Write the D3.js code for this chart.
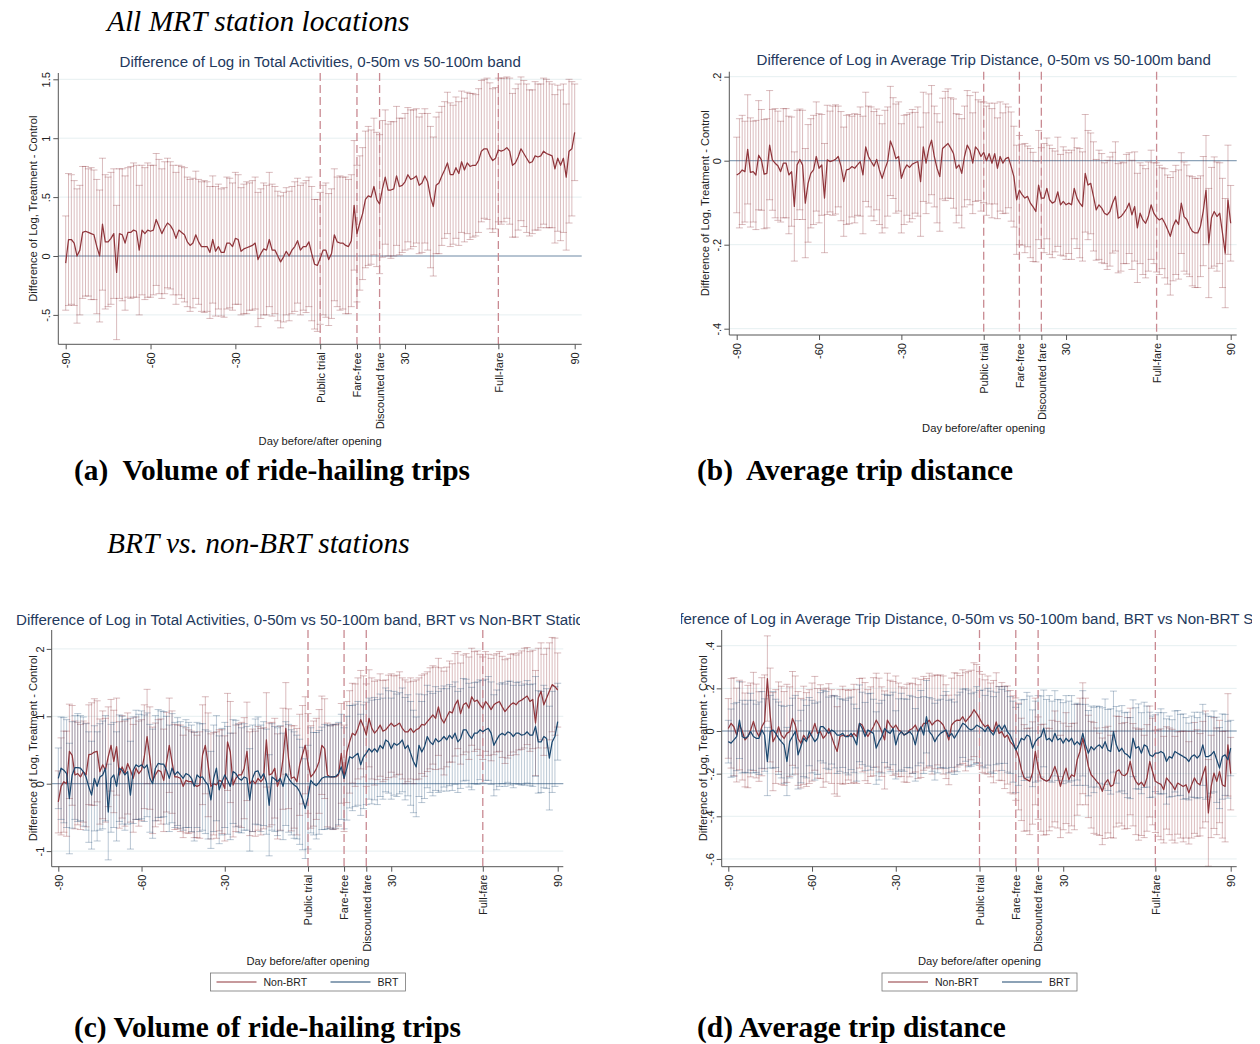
<!DOCTYPE html>
<html>
<head>
<meta charset="utf-8">
<script src="https://cdn.jsdelivr.net/npm/d3@7"></script>
<style>
  body { margin: 0; background: #fff; }
  svg { display: block; }
</style>
</head>
<body>
<svg id="fig" width="1260" height="1044"></svg>
<script>
// ── Data ────────────────────────────────────────────────────────────────────
const days = d3.range(-90, 91);
const xTickDays = [-90, -60, -30, 30, 90];
const eventDays = [0, 13, 21, 63];
const eventLabels = ["Public trial", "Fare-free", "Discounted fare", "Full-fare"];
const seriesNames = ["Non-BRT", "BRT"];

const yTicksA = [-0.5, 0, 0.5, 1, 1.5];
const yTicksB = [-0.4, -0.2, 0, 0.2];
const yTicksC = [-1, 0, 1, 2];
const yTicksD = [-0.6, -0.4, -0.2, 0, 0.2, 0.4];

// (a) volume, all stations
const volAll = [
  -0.06, 0.14, 0.14, 0.11, 0.00, 0.05, 0.20, 0.21, 0.20, 0.19,
  0.18, 0.08, 0.00, 0.27, 0.12, 0.12, 0.15, 0.19, -0.14, 0.19,
  0.18, 0.11, 0.20, 0.20, 0.22, 0.21, 0.05, 0.22, 0.19, 0.22,
  0.21, 0.22, 0.31, 0.25, 0.19, 0.24, 0.28, 0.26, 0.22, 0.15,
  0.22, 0.20, 0.18, 0.12, 0.09, 0.11, 0.18, 0.12, 0.08, 0.08,
  0.08, 0.03, 0.14, 0.04, 0.08, 0.03, 0.03, 0.11, 0.11, 0.08,
  0.15, 0.14, 0.04, 0.06, 0.07, 0.08, 0.09, 0.11, -0.03, 0.02,
  0.06, 0.05, 0.14, 0.05, 0.05, 0.00, -0.05, -0.01, 0.04, 0.00,
  0.05, 0.08, 0.13, 0.05, 0.08, 0.08, 0.12, 0.02, -0.07, -0.08,
  -0.02, 0.05, 0.05, -0.03, 0.02, 0.18, 0.12, 0.11, 0.11, 0.09,
  0.08, 0.13, 0.43, 0.19, 0.28, 0.36, 0.48, 0.51, 0.50, 0.59,
  0.48, 0.44, 0.57, 0.67, 0.56, 0.56, 0.57, 0.68, 0.59, 0.60,
  0.63, 0.69, 0.65, 0.66, 0.68, 0.60, 0.62, 0.68, 0.63, 0.50,
  0.42, 0.60, 0.62, 0.68, 0.73, 0.79, 0.69, 0.69, 0.75, 0.70,
  0.80, 0.73, 0.79, 0.76, 0.77, 0.77, 0.81, 0.89, 0.91, 0.91,
  0.85, 0.81, 0.83, 0.90, 0.89, 0.90, 0.92, 0.89, 0.77, 0.79,
  0.84, 0.91, 0.87, 0.83, 0.79, 0.80, 0.85, 0.84, 0.85, 0.89,
  0.87, 0.86, 0.85, 0.74, 0.83, 0.77, 0.83, 0.67, 0.89, 0.91, 1.05
];
const volAllCi = [
  0.40, 0.56, 0.55, 0.53, 0.57, 0.55, 0.56, 0.55, 0.54, 0.56,
  0.55, 0.57, 0.56, 0.56, 0.57, 0.55, 0.56, 0.55, 0.57, 0.55,
  0.56, 0.57, 0.55, 0.56, 0.57, 0.56, 0.55, 0.55, 0.56, 0.57,
  0.56, 0.55, 0.56, 0.57, 0.55, 0.56, 0.55, 0.54, 0.55, 0.56,
  0.55, 0.56, 0.57, 0.55, 0.56, 0.55, 0.54, 0.53, 0.55, 0.56,
  0.55, 0.56, 0.54, 0.55, 0.53, 0.54, 0.55, 0.56, 0.55, 0.54,
  0.56, 0.55, 0.54, 0.55, 0.56, 0.54, 0.55, 0.56, 0.57, 0.55,
  0.56, 0.55, 0.57, 0.56, 0.54, 0.55, 0.56, 0.55, 0.54, 0.55,
  0.54, 0.55, 0.53, 0.55, 0.54, 0.56, 0.55, 0.57, 0.55, 0.56,
  0.56, 0.55, 0.57, 0.56, 0.55, 0.56, 0.55, 0.57, 0.56, 0.58,
  0.57, 0.56, 0.55, 0.58, 0.57, 0.56, 0.58, 0.59, 0.57, 0.58,
  0.57, 0.59, 0.58, 0.57, 0.56, 0.58, 0.57, 0.59, 0.58, 0.57,
  0.58, 0.57, 0.59, 0.58, 0.57, 0.58, 0.59, 0.57, 0.58, 0.60,
  0.59, 0.58, 0.60, 0.59, 0.58, 0.60, 0.61, 0.59, 0.60, 0.61,
  0.60, 0.61, 0.60, 0.62, 0.61, 0.60, 0.61, 0.60, 0.59, 0.60,
  0.62, 0.61, 0.60, 0.61, 0.62, 0.61, 0.60, 0.62, 0.61, 0.63,
  0.62, 0.61, 0.62, 0.63, 0.62, 0.61, 0.63, 0.62, 0.61, 0.62,
  0.63, 0.62, 0.61, 0.63, 0.62, 0.64, 0.63, 0.62, 0.61, 0.57, 0.41
];

// (b) trip distance, all stations
const distAll = [
  -0.034, -0.030, -0.022, -0.026, 0.027, -0.028, -0.026, -0.034, 0.013, 0.002,
  -0.032, -0.030, 0.037, 0.002, -0.006, -0.012, -0.026, -0.006, -0.006, -0.034,
  -0.026, -0.109, -0.010, 0.003, -0.010, -0.101, -0.054, -0.030, -0.022, 0.010,
  -0.018, -0.010, -0.089, 0.002, -0.002, 0.000, 0.003, 0.010, -0.013, -0.050,
  -0.022, -0.020, -0.014, -0.018, -0.010, -0.002, -0.034, 0.033, 0.010, -0.002,
  -0.013, 0.003, -0.022, -0.042, -0.020, -0.002, 0.047, 0.030, 0.005, 0.010,
  -0.042, -0.022, -0.010, -0.016, -0.008, -0.005, -0.002, -0.050, 0.033, -0.006,
  0.029, 0.049, 0.010, -0.018, -0.038, 0.029, 0.035, 0.041, 0.030, 0.017,
  -0.018, -0.010, -0.030, 0.010, 0.037, 0.025, -0.006, 0.033, 0.025, 0.010,
  0.020, 0.000, 0.017, -0.006, 0.017, -0.018, 0.010, -0.006, 0.005, 0.008,
  -0.014, -0.038, -0.093, -0.070, -0.081, -0.089, -0.085, -0.101, -0.110, -0.121,
  -0.058, -0.089, -0.089, -0.066, -0.093, -0.101, -0.097, -0.074, -0.105, -0.097,
  -0.105, -0.101, -0.105, -0.066, -0.089, -0.101, -0.109, -0.030, -0.058, -0.054,
  -0.085, -0.117, -0.105, -0.113, -0.125, -0.129, -0.121, -0.100, -0.085, -0.137,
  -0.133, -0.125, -0.115, -0.101, -0.129, -0.109, -0.160, -0.125, -0.141, -0.149,
  -0.133, -0.105, -0.125, -0.135, -0.141, -0.137, -0.149, -0.164, -0.180, -0.156,
  -0.141, -0.152, -0.101, -0.133, -0.140, -0.156, -0.168, -0.172, -0.172, -0.156,
  -0.120, -0.070, -0.196, -0.136, -0.121, -0.133, -0.125, -0.172, -0.220, -0.093, -0.149
];
const distAllCi = [
  0.09, 0.13, 0.13, 0.12, 0.13, 0.13, 0.12, 0.13, 0.13, 0.12,
  0.13, 0.13, 0.13, 0.12, 0.13, 0.13, 0.12, 0.13, 0.13, 0.14,
  0.13, 0.13, 0.13, 0.12, 0.13, 0.13, 0.14, 0.13, 0.13, 0.13,
  0.13, 0.12, 0.13, 0.13, 0.12, 0.13, 0.13, 0.12, 0.13, 0.13,
  0.13, 0.13, 0.12, 0.13, 0.12, 0.13, 0.14, 0.13, 0.12, 0.13,
  0.13, 0.12, 0.13, 0.13, 0.14, 0.13, 0.13, 0.12, 0.13, 0.13,
  0.13, 0.13, 0.12, 0.13, 0.13, 0.12, 0.13, 0.13, 0.13, 0.12,
  0.13, 0.13, 0.12, 0.13, 0.13, 0.12, 0.13, 0.13, 0.12, 0.13,
  0.13, 0.12, 0.13, 0.12, 0.13, 0.13, 0.12, 0.13, 0.12, 0.13,
  0.12, 0.13, 0.12, 0.13, 0.12, 0.12, 0.13, 0.12, 0.13, 0.12,
  0.13, 0.12, 0.13, 0.13, 0.12, 0.13, 0.12, 0.13, 0.13, 0.12,
  0.13, 0.12, 0.13, 0.12, 0.13, 0.13, 0.12, 0.13, 0.12, 0.13,
  0.13, 0.12, 0.13, 0.12, 0.12, 0.13, 0.13, 0.14, 0.13, 0.12,
  0.13, 0.12, 0.13, 0.13, 0.12, 0.13, 0.13, 0.12, 0.13, 0.13,
  0.13, 0.12, 0.13, 0.12, 0.13, 0.13, 0.13, 0.12, 0.13, 0.13,
  0.13, 0.13, 0.12, 0.13, 0.13, 0.12, 0.13, 0.13, 0.14, 0.13,
  0.13, 0.13, 0.12, 0.13, 0.13, 0.12, 0.13, 0.13, 0.13, 0.12,
  0.13, 0.13, 0.13, 0.12, 0.13, 0.13, 0.12, 0.13, 0.13, 0.13, 0.09
];

// (c) volume, Non-BRT vs BRT
const volNonBrt = [
  -0.27, -0.04, 0.03, 0.00, 0.48, 0.42, 0.13, 0.15, 0.10, 0.18,
  0.13, 0.43, 0.44, 0.47, 0.48, 0.18, 0.28, 0.20, 0.40, 0.57,
  0.33, 0.55, 0.13, 0.25, 0.15, 0.30, 0.20, 0.08, 0.23, 0.15,
  0.20, 0.40, 0.70, 0.38, 0.05, 0.13, 0.20, 0.18, 0.05, 0.32,
  0.57, 0.32, 0.10, 0.10, 0.08, -0.04, 0.05, 0.03, 0.03, -0.02,
  -0.04, -0.02, 0.43, 0.57, 0.28, -0.04, 0.00, -0.02, 0.05, 0.03,
  -0.07, 0.62, 0.47, -0.02, 0.08, 0.13, 0.13, 0.23, 0.48, 0.00,
  0.05, 0.00, 0.08, 0.03, 0.08, 0.65, 0.13, 0.15, 0.23, -0.04,
  0.08, 0.37, 0.82, 0.37, 0.08, 0.10, 0.03, 0.28, 0.43, 0.57,
  0.30, 0.10, 0.15, 0.22, 0.33, 0.57, 0.52, 0.13, 0.10, 0.10,
  0.10, 0.13, 0.45, 0.08, 0.47, 0.62, 0.75, 0.72, 0.82, 0.95,
  0.85, 0.72, 0.97, 0.82, 0.75, 0.80, 0.87, 0.78, 0.80, 0.85,
  0.90, 0.85, 0.87, 0.90, 0.82, 0.77, 0.77, 0.82, 0.76, 0.80,
  0.82, 0.88, 0.87, 0.92, 0.97, 1.02, 0.97, 1.14, 0.97, 0.90,
  0.99, 1.07, 1.05, 1.17, 1.24, 1.04, 1.17, 1.20, 1.12, 1.29,
  1.22, 1.24, 1.17, 1.12, 1.22, 1.17, 1.10, 1.17, 1.20, 1.22,
  1.14, 1.07, 1.12, 1.17, 1.20, 1.17, 1.22, 1.24, 1.27, 1.30,
  1.22, 1.25, 0.90, 1.27, 1.37, 1.17, 1.27, 1.37, 1.47, 1.44, 1.39
];
const volNonBrtCi = [
  0.46, 0.72, 0.75, 0.78, 0.70, 0.74, 0.80, 0.76, 0.78, 0.75,
  0.77, 0.74, 0.76, 0.79, 0.75, 0.78, 0.80, 0.77, 0.74, 0.68,
  0.76, 0.72, 0.79, 0.76, 0.78, 0.75, 0.77, 0.80, 0.76, 0.78,
  0.75, 0.77, 0.70, 0.76, 0.79, 0.77, 0.75, 0.78, 0.76, 0.74,
  0.70, 0.76, 0.78, 0.77, 0.79, 0.76, 0.78, 0.77, 0.75, 0.78,
  0.76, 0.79, 0.74, 0.72, 0.77, 0.78, 0.76, 0.79, 0.75, 0.77,
  0.78, 0.72, 0.75, 0.77, 0.79, 0.76, 0.78, 0.75, 0.73, 0.77,
  0.76, 0.78, 0.77, 0.79, 0.75, 0.70, 0.77, 0.76, 0.74, 0.78,
  0.77, 0.75, 0.68, 0.74, 0.78, 0.76, 0.79, 0.75, 0.73, 0.72,
  0.74, 0.76, 0.78, 0.75, 0.77, 0.73, 0.74, 0.77, 0.76, 0.78,
  0.77, 0.76, 0.74, 0.79, 0.75, 0.76, 0.74, 0.76, 0.75, 0.73,
  0.75, 0.76, 0.72, 0.75, 0.77, 0.74, 0.76, 0.75, 0.74, 0.76,
  0.73, 0.75, 0.74, 0.76, 0.75, 0.77, 0.74, 0.75, 0.76, 0.74,
  0.75, 0.73, 0.76, 0.74, 0.75, 0.73, 0.76, 0.72, 0.75, 0.77,
  0.74, 0.75, 0.73, 0.76, 0.72, 0.75, 0.74, 0.73, 0.76, 0.72,
  0.74, 0.73, 0.75, 0.76, 0.74, 0.75, 0.76, 0.74, 0.73, 0.74,
  0.75, 0.77, 0.74, 0.75, 0.73, 0.74, 0.72, 0.73, 0.74, 0.72,
  0.74, 0.73, 0.78, 0.74, 0.72, 0.75, 0.74, 0.72, 0.70, 0.72, 0.55
];
const volBrt = [
  0.08, 0.23, 0.20, 0.15, -0.22, 0.13, 0.24, 0.24, 0.23, 0.18,
  0.10, -0.05, -0.17, 0.08, -0.04, 0.10, 0.13, 0.23, -0.42, 0.08,
  0.13, -0.04, 0.23, 0.20, 0.13, 0.18, -0.17, 0.20, 0.28, 0.25,
  0.28, 0.23, 0.28, 0.08, 0.00, 0.23, 0.30, 0.29, 0.29, 0.20,
  0.08, 0.23, 0.13, 0.18, 0.13, 0.08, 0.15, 0.13, 0.08, -0.04,
  0.13, 0.09, 0.10, 0.03, -0.02, -0.24, 0.08, 0.23, -0.09, 0.03,
  0.13, 0.05, -0.04, 0.18, 0.15, 0.08, 0.05, 0.10, 0.08, -0.24,
  0.08, 0.18, 0.19, 0.08, 0.15, 0.03, -0.32, 0.10, 0.07, 0.03,
  0.08, -0.04, 0.15, 0.08, 0.02, -0.02, -0.05, -0.12, -0.22, -0.37,
  -0.20, 0.05, 0.00, -0.03, 0.02, 0.08, 0.10, 0.10, 0.10, 0.10,
  0.11, 0.15, 0.25, 0.08, 0.23, 0.40, 0.38, 0.42, 0.45, 0.28,
  0.40, 0.45, 0.52, 0.47, 0.52, 0.47, 0.57, 0.52, 0.65, 0.62,
  0.52, 0.60, 0.57, 0.60, 0.65, 0.52, 0.57, 0.45, 0.33, 0.25,
  0.57, 0.47, 0.55, 0.70, 0.62, 0.58, 0.67, 0.62, 0.65, 0.70,
  0.65, 0.72, 0.67, 0.75, 0.62, 0.67, 0.80, 0.80, 0.72, 0.67,
  0.75, 0.75, 0.80, 0.77, 0.80, 0.82, 0.75, 0.57, 0.65, 0.72,
  0.75, 0.72, 0.77, 0.75, 0.70, 0.75, 0.75, 0.72, 0.73, 0.77,
  0.72, 0.72, 0.85, 0.62, 0.62, 0.70, 0.67, 0.38, 0.62, 0.70, 0.92
];
const volBrtCi = [
  0.45, 0.76, 0.78, 0.80, 0.82, 0.79, 0.77, 0.80, 0.78, 0.81,
  0.79, 0.82, 0.80, 0.78, 0.81, 0.79, 0.80, 0.78, 0.71, 0.80,
  0.78, 0.81, 0.79, 0.80, 0.82, 0.78, 0.80, 0.79, 0.81, 0.78,
  0.80, 0.79, 0.77, 0.80, 0.81, 0.78, 0.80, 0.79, 0.78, 0.80,
  0.79, 0.81, 0.78, 0.80, 0.79, 0.77, 0.80, 0.78, 0.79, 0.81,
  0.78, 0.80, 0.79, 0.77, 0.80, 0.72, 0.79, 0.78, 0.80, 0.79,
  0.78, 0.80, 0.79, 0.77, 0.79, 0.80, 0.78, 0.79, 0.77, 0.76,
  0.79, 0.78, 0.80, 0.79, 0.77, 0.78, 0.75, 0.79, 0.78, 0.80,
  0.78, 0.79, 0.77, 0.80, 0.78, 0.79, 0.77, 0.78, 0.76, 0.74,
  0.77, 0.78, 0.76, 0.79, 0.77, 0.76, 0.78, 0.77, 0.76, 0.78,
  0.77, 0.76, 0.78, 0.75, 0.77, 0.76, 0.78, 0.76, 0.77, 0.75,
  0.77, 0.76, 0.75, 0.77, 0.76, 0.78, 0.76, 0.75, 0.77, 0.76,
  0.75, 0.77, 0.76, 0.75, 0.77, 0.76, 0.75, 0.77, 0.76, 0.74,
  0.76, 0.75, 0.77, 0.76, 0.75, 0.76, 0.77, 0.75, 0.76, 0.75,
  0.76, 0.75, 0.77, 0.76, 0.75, 0.74, 0.76, 0.75, 0.77, 0.76,
  0.75, 0.76, 0.74, 0.76, 0.75, 0.77, 0.76, 0.75, 0.74, 0.76,
  0.75, 0.76, 0.75, 0.77, 0.76, 0.75, 0.76, 0.74, 0.75, 0.76,
  0.75, 0.76, 0.74, 0.76, 0.75, 0.76, 0.74, 0.77, 0.75, 0.74, 0.57
];

// (d) trip distance, Non-BRT vs BRT
const distNonBrt = [
  0.012, 0.036, 0.020, -0.019, 0.028, 0.000, -0.042, -0.026, 0.005, 0.045,
  0.000, -0.026, 0.020, 0.043, 0.246, 0.075, -0.050, -0.026, 0.020, -0.020,
  -0.035, -0.011, -0.003, 0.059, 0.028, -0.035, -0.057, -0.020, -0.040, -0.026,
  -0.005, 0.036, -0.011, -0.003, -0.034, -0.019, 0.012, -0.026, -0.065, -0.096,
  -0.026, -0.020, -0.026, -0.020, -0.026, -0.011, -0.026, 0.036, 0.028, -0.003,
  -0.026, -0.003, 0.020, 0.051, 0.028, -0.003, -0.042, 0.051, 0.028, 0.012,
  0.028, 0.005, -0.003, -0.019, -0.011, 0.005, 0.012, 0.028, -0.003, 0.012,
  0.036, 0.036, 0.051, 0.028, 0.043, 0.051, 0.043, 0.028, -0.003, -0.042,
  0.028, 0.043, 0.051, 0.050, 0.067, 0.043, 0.059, 0.075, 0.100, 0.082,
  0.059, 0.036, 0.020, 0.028, 0.005, -0.003, 0.043, -0.011, -0.003, -0.030,
  -0.019, -0.050, -0.065, -0.085, -0.120, -0.180, -0.220, -0.228, -0.236, -0.197,
  -0.096, -0.174, -0.220, -0.228, -0.236, -0.228, -0.200, -0.166, -0.205, -0.260,
  -0.213, -0.174, -0.228, -0.205, -0.213, -0.135, -0.096, -0.034, -0.096, -0.166,
  -0.205, -0.220, -0.236, -0.250, -0.283, -0.244, -0.228, -0.260, -0.252, -0.190,
  -0.182, -0.205, -0.210, -0.197, -0.143, -0.205, -0.236, -0.252, -0.240, -0.260,
  -0.220, -0.143, -0.190, -0.236, -0.244, -0.250, -0.275, -0.220, -0.236, -0.252,
  -0.275, -0.244, -0.252, -0.260, -0.252, -0.290, -0.252, -0.220, -0.244, -0.252,
  -0.205, -0.166, -0.384, -0.260, -0.197, -0.236, -0.190, -0.252, -0.260, -0.065, -0.200
];
const distNonBrtCi = [
  0.14, 0.21, 0.23, 0.22, 0.21, 0.23, 0.22, 0.24, 0.22, 0.23,
  0.22, 0.21, 0.23, 0.22, 0.20, 0.22, 0.23, 0.22, 0.21, 0.23,
  0.22, 0.23, 0.21, 0.22, 0.23, 0.22, 0.21, 0.23, 0.22, 0.22,
  0.23, 0.22, 0.21, 0.22, 0.23, 0.22, 0.21, 0.22, 0.23, 0.21,
  0.22, 0.23, 0.22, 0.21, 0.22, 0.23, 0.22, 0.21, 0.22, 0.23,
  0.22, 0.21, 0.23, 0.22, 0.22, 0.21, 0.23, 0.22, 0.21, 0.22,
  0.23, 0.22, 0.21, 0.22, 0.23, 0.22, 0.21, 0.22, 0.22, 0.23,
  0.22, 0.21, 0.22, 0.23, 0.22, 0.21, 0.22, 0.23, 0.22, 0.21,
  0.22, 0.23, 0.22, 0.21, 0.22, 0.23, 0.22, 0.21, 0.22, 0.23,
  0.22, 0.23, 0.22, 0.23, 0.22, 0.24, 0.23, 0.22, 0.23, 0.24,
  0.23, 0.24, 0.23, 0.24, 0.25, 0.24, 0.25, 0.24, 0.25, 0.24,
  0.25, 0.24, 0.25, 0.26, 0.25, 0.24, 0.25, 0.26, 0.25, 0.24,
  0.25, 0.26, 0.25, 0.24, 0.25, 0.26, 0.25, 0.26, 0.25, 0.24,
  0.25, 0.26, 0.25, 0.24, 0.25, 0.26, 0.25, 0.24, 0.25, 0.26,
  0.25, 0.24, 0.25, 0.26, 0.25, 0.24, 0.25, 0.26, 0.25, 0.24,
  0.25, 0.26, 0.25, 0.24, 0.25, 0.26, 0.25, 0.24, 0.25, 0.26,
  0.25, 0.24, 0.25, 0.26, 0.25, 0.24, 0.25, 0.26, 0.25, 0.24,
  0.25, 0.26, 0.25, 0.24, 0.26, 0.25, 0.24, 0.25, 0.26, 0.24, 0.17
];
const distBrt = [
  -0.050, -0.057, -0.042, -0.026, 0.051, -0.026, -0.034, -0.026, -0.003, -0.026,
  -0.034, -0.034, 0.005, -0.019, -0.143, -0.003, 0.005, -0.011, -0.034, -0.050,
  -0.065, -0.143, -0.050, -0.026, -0.003, -0.112, -0.073, -0.034, -0.050, -0.003,
  -0.026, -0.050, -0.034, 0.020, 0.020, 0.005, -0.011, 0.005, -0.003, -0.019,
  -0.019, -0.011, -0.026, -0.026, -0.011, -0.034, -0.065, 0.036, 0.012, -0.026,
  0.005, -0.003, -0.011, -0.080, -0.050, -0.026, 0.012, -0.003, -0.011, 0.012,
  -0.065, -0.019, -0.003, -0.019, -0.011, -0.003, -0.019, -0.065, -0.003, 0.020,
  -0.019, 0.067, -0.003, -0.019, -0.050, -0.026, -0.011, -0.003, 0.005, -0.026,
  -0.011, -0.034, -0.011, 0.012, 0.036, 0.028, 0.012, 0.005, 0.012, 0.028,
  0.020, 0.012, -0.003, 0.020, -0.003, -0.019, 0.012, 0.028, 0.005, 0.028,
  -0.003, -0.019, -0.050, -0.089, -0.065, -0.034, -0.042, -0.019, -0.026, -0.081,
  -0.050, -0.034, -0.026, 0.012, -0.042, -0.034, -0.050, -0.011, -0.042, -0.034,
  -0.057, -0.034, -0.050, -0.034, -0.065, -0.050, -0.065, -0.011, -0.065, -0.104,
  -0.073, -0.089, -0.073, -0.065, -0.081, -0.050, -0.089, -0.096, -0.003, -0.065,
  -0.096, -0.081, -0.104, -0.112, -0.127, -0.034, -0.081, -0.073, -0.104, -0.065,
  -0.073, -0.112, -0.120, -0.104, -0.104, -0.096, -0.104, -0.143, -0.120, -0.127,
  -0.096, -0.104, -0.112, -0.120, -0.127, -0.143, -0.120, -0.112, -0.127, -0.112,
  -0.065, -0.120, -0.120, -0.112, -0.096, -0.135, -0.174, -0.120, -0.112, -0.135, -0.080
];
const distBrtCi = [
  0.10, 0.16, 0.17, 0.16, 0.18, 0.17, 0.16, 0.17, 0.18, 0.17,
  0.16, 0.17, 0.18, 0.17, 0.16, 0.17, 0.18, 0.16, 0.17, 0.17,
  0.18, 0.16, 0.17, 0.18, 0.17, 0.16, 0.17, 0.18, 0.17, 0.16,
  0.17, 0.18, 0.17, 0.16, 0.17, 0.18, 0.17, 0.16, 0.17, 0.18,
  0.17, 0.16, 0.17, 0.18, 0.17, 0.16, 0.17, 0.18, 0.17, 0.16,
  0.17, 0.18, 0.16, 0.17, 0.18, 0.17, 0.16, 0.17, 0.18, 0.17,
  0.16, 0.17, 0.18, 0.17, 0.16, 0.17, 0.18, 0.17, 0.16, 0.17,
  0.18, 0.17, 0.16, 0.17, 0.18, 0.17, 0.16, 0.17, 0.18, 0.17,
  0.16, 0.17, 0.18, 0.17, 0.16, 0.17, 0.18, 0.17, 0.17, 0.18,
  0.17, 0.18, 0.17, 0.18, 0.19, 0.18, 0.17, 0.18, 0.19, 0.18,
  0.19, 0.18, 0.19, 0.20, 0.19, 0.18, 0.19, 0.20, 0.19, 0.18,
  0.19, 0.20, 0.19, 0.18, 0.19, 0.20, 0.19, 0.20, 0.19, 0.18,
  0.19, 0.20, 0.19, 0.20, 0.19, 0.18, 0.19, 0.20, 0.19, 0.20,
  0.19, 0.20, 0.19, 0.18, 0.19, 0.20, 0.19, 0.20, 0.19, 0.18,
  0.19, 0.20, 0.19, 0.20, 0.19, 0.18, 0.19, 0.20, 0.19, 0.20,
  0.19, 0.20, 0.19, 0.18, 0.19, 0.20, 0.19, 0.20, 0.19, 0.18,
  0.19, 0.20, 0.19, 0.20, 0.19, 0.18, 0.19, 0.20, 0.19, 0.20,
  0.19, 0.20, 0.19, 0.18, 0.19, 0.20, 0.19, 0.20, 0.19, 0.18, 0.13
];

// ── Style ───────────────────────────────────────────────────────────────────
const RED = "#90353b", BLUE = "#1a476f";
const SANS = "'Liberation Sans', Arial, sans-serif";
const SERIF = "'Liberation Serif', 'Times New Roman', serif";
const TITLE_COL = "#23395d";
const AXIS_COL = "#555";

const fmt = d => d === 0 ? "0" : String(d).replace("0.", ".");

const panels = [
  {
    title: "Difference of Log in Total Activities, 0-50m vs 50-100m band",
    xRange: [65.7, 574.7], left: 58.3, right: 581.7,
    yRef: [0, 1], yPix: [256, 138.2], top: 73, bottom: 344.3,
    yTicks: yTicksA, titleY: 62, yTitleX: 33.5, xTitleY: 441,
    series: [{ v: volAll, ci: volAllCi, color: RED }]
  },
  {
    title: "Difference of Log in Average Trip Distance, 0-50m vs 50-100m band",
    xRange: [736.7, 1230.7], left: 729.3, right: 1236.7,
    yRef: [0, 0.2], yPix: [160.7, 76.7], top: 71.7, bottom: 335,
    yTicks: yTicksB, titleY: 60, yTitleX: 705, xTitleY: 428,
    series: [{ v: distAll, ci: distAllCi, color: RED }]
  },
  {
    title: "Difference of Log in Total Activities, 0-50m vs 50-100m band, BRT vs Non-BRT Stations",
    xRange: [58.3, 557.7], left: 51.7, right: 563.3,
    yRef: [0, 1], yPix: [783.7, 716.3], top: 630, bottom: 866.7,
    yTicks: yTicksC, titleY: 620, yTitleX: 33.5, xTitleY: 961,
    clip: [0, 580], legendY: 982,
    series: [{ v: volNonBrt, ci: volNonBrtCi, color: RED }, { v: volBrt, ci: volBrtCi, color: BLUE }]
  },
  {
    title: "Difference of Log in Average Trip Distance, 0-50m vs 50-100m band, BRT vs Non-BRT Stations",
    xRange: [728.3, 1230.7], left: 721.7, right: 1236.7,
    yRef: [0, 0.4], yPix: [731, 645.7], top: 630, bottom: 866.7,
    yTicks: yTicksD, titleY: 619, yTitleX: 703, xTitleY: 961,
    clip: [681, 1252], legendY: 982,
    series: [{ v: distNonBrt, ci: distNonBrtCi, color: RED }, { v: distBrt, ci: distBrtCi, color: BLUE }]
  }
];

const svg = d3.select("#fig");
const defs = svg.append("defs");

// ── Panels ──────────────────────────────────────────────────────────────────
panels.forEach((p, pi) => {
  const xs = d3.scaleLinear().domain([-90, 90]).range(p.xRange);
  const ys = d3.scaleLinear().domain(p.yRef).range(p.yPix);
  const g = svg.append("g");

  // the two lower panels are cropped like the source figure
  if (p.clip) {
    defs.append("clipPath").attr("id", "clip" + pi)
      .append("rect").attr("x", p.clip[0]).attr("y", 0)
      .attr("width", p.clip[1] - p.clip[0]).attr("height", 1044);
    g.attr("clip-path", `url(#clip${pi})`);
  }

  // gridlines
  g.selectAll(".grid").data(p.yTicks).join("line")
    .attr("x1", p.left).attr("x2", p.right)
    .attr("y1", d => ys(d)).attr("y2", d => ys(d))
    .attr("stroke", "#e6eff1").attr("stroke-width", 1);

  // zero line
  g.append("line")
    .attr("x1", p.left).attr("x2", p.right)
    .attr("y1", ys(0)).attr("y2", ys(0))
    .attr("stroke", "#7890ab").attr("stroke-width", 1);

  // error bars
  p.series.forEach(s => {
    const eb = g.append("g").attr("stroke", s.color)
      .attr("stroke-opacity", s.color === RED ? 0.33 : 0.3).attr("stroke-width", 1);
    days.forEach((d, i) => {
      const x = xs(d), lo = ys(s.v[i] - s.ci[i]), hi = ys(s.v[i] + s.ci[i]);
      eb.append("line").attr("x1", x).attr("x2", x).attr("y1", lo).attr("y2", hi);
      eb.append("line").attr("x1", x - 3.5).attr("x2", x + 3.5).attr("y1", lo).attr("y2", lo);
      eb.append("line").attr("x1", x - 3.5).attr("x2", x + 3.5).attr("y1", hi).attr("y2", hi);
    });
  });

  // event lines
  g.selectAll(".ev").data(eventDays).join("line")
    .attr("x1", d => xs(d)).attr("x2", d => xs(d))
    .attr("y1", p.top).attr("y2", p.bottom)
    .attr("stroke", "#c98a92").attr("stroke-width", 1.3)
    .attr("stroke-dasharray", "8,4");

  // series lines
  const line = d3.line().x((d, i) => xs(days[i])).y(d => ys(d));
  p.series.forEach(s => {
    g.append("path").datum(s.v)
      .attr("d", line).attr("fill", "none")
      .attr("stroke", s.color).attr("stroke-width", 1.25)
      .attr("stroke-linejoin", "round");
  });

  // axis lines
  g.append("line").attr("x1", p.left).attr("x2", p.left)
    .attr("y1", p.top).attr("y2", p.bottom).attr("stroke", AXIS_COL);
  g.append("line").attr("x1", p.left).attr("x2", p.right)
    .attr("y1", p.bottom).attr("y2", p.bottom).attr("stroke", AXIS_COL);

  // y axis
  const ya = g.append("g").attr("transform", `translate(${p.left},0)`)
    .call(d3.axisLeft(ys).tickValues(p.yTicks).tickFormat(fmt).tickSize(5).tickSizeOuter(0));
  ya.select(".domain").remove();
  ya.attr("font-family", SANS).attr("font-size", 11);
  ya.selectAll("line").attr("stroke", AXIS_COL);
  ya.selectAll("text").attr("fill", "#222")
    .attr("transform", "rotate(-90)").attr("x", 0).attr("y", -8).attr("dy", 0)
    .attr("text-anchor", "middle");

  // x axis
  const xa = g.append("g").attr("transform", `translate(0,${p.bottom})`)
    .call(d3.axisBottom(xs).tickValues(xTickDays.concat(eventDays))
      .tickFormat(d => { const k = eventDays.indexOf(d); return k >= 0 ? eventLabels[k] : d; })
      .tickSize(5).tickSizeOuter(0));
  xa.select(".domain").remove();
  xa.attr("font-family", SANS).attr("font-size", 11);
  xa.selectAll("line").attr("stroke", AXIS_COL);
  xa.selectAll("text").attr("fill", "#222")
    .attr("transform", "rotate(-90)").attr("x", -8).attr("y", 0).attr("dy", "0.35em")
    .attr("text-anchor", "end");

  // titles
  g.append("text").attr("x", xs(0)).attr("y", p.titleY).attr("dy", "0.35em")
    .attr("text-anchor", "middle").attr("font-family", SANS).attr("font-size", 15.1)
    .attr("fill", TITLE_COL).text(p.title);
  g.append("text")
    .attr("transform", `translate(${p.yTitleX},${(p.top + p.bottom) / 2}) rotate(-90)`)
    .attr("dy", "0.35em").attr("text-anchor", "middle")
    .attr("font-family", SANS).attr("font-size", 11.1).attr("fill", "#222")
    .text("Difference of Log, Treatment - Control");
  g.append("text").attr("x", xs(0)).attr("y", p.xTitleY).attr("dy", "0.35em")
    .attr("text-anchor", "middle").attr("font-family", SANS).attr("font-size", 11.2)
    .attr("fill", "#222").text("Day before/after opening");

  // legend
  if (p.legendY) {
    const lx = xs(0) - 97.5;
    const lg = g.append("g").attr("transform", `translate(${lx},${p.legendY})`);
    lg.append("rect").attr("x", 0).attr("y", -9).attr("width", 195).attr("height", 18)
      .attr("fill", "#fff").attr("stroke", "#777").attr("stroke-width", 0.8);
    [RED, BLUE].forEach((c, k) => {
      const ox = k === 0 ? 6 : 120;
      lg.append("line").attr("x1", ox).attr("x2", ox + 40).attr("y1", 0).attr("y2", 0)
        .attr("stroke", c).attr("stroke-width", 1.2);
      lg.append("text").attr("x", ox + 47).attr("y", 0).attr("dy", "0.35em")
        .attr("font-family", SANS).attr("font-size", 10.5).attr("fill", "#222")
        .text(seriesNames[k]);
    });
  }
});

// ── Headings and captions ───────────────────────────────────────────────────
const headings = [
  { x: 107, y: 31, text: "All MRT station locations", style: "italic", weight: "normal" },
  { x: 74, y: 480, text: "(a)  Volume of ride-hailing trips", style: "normal", weight: "bold" },
  { x: 697, y: 480, text: "(b)  Average trip distance", style: "normal", weight: "bold" },
  { x: 107, y: 553, text: "BRT vs. non-BRT stations", style: "italic", weight: "normal" },
  { x: 74, y: 1037, text: "(c) Volume of ride-hailing trips", style: "normal", weight: "bold" },
  { x: 697, y: 1037, text: "(d) Average trip distance", style: "normal", weight: "bold" }
];
svg.selectAll(".heading").data(headings).join("text")
  .attr("x", d => d.x).attr("y", d => d.y)
  .attr("font-family", SERIF).attr("font-size", 29.4)
  .attr("font-style", d => d.style).attr("font-weight", d => d.weight)
  .attr("fill", "#000").style("white-space", "pre")
  .text(d => d.text);
</script>
</body>
</html>
